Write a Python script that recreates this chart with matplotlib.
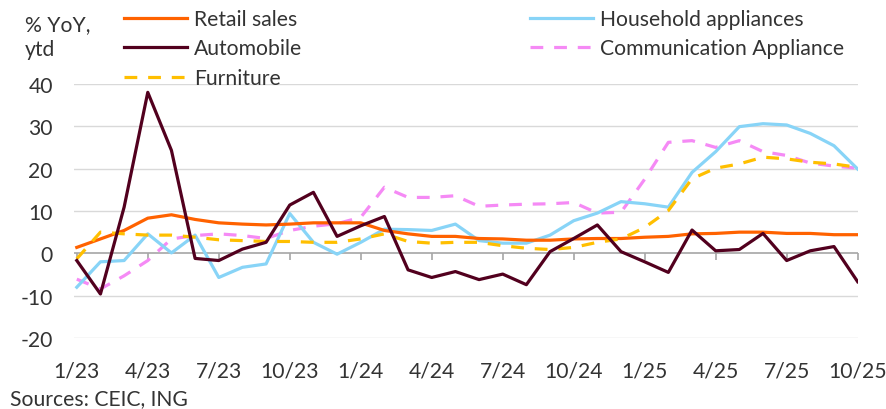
import matplotlib
matplotlib.use("Agg")
import matplotlib.pyplot as plt

# Datos mensuales 1/23 - 10/25 (% YoY, ytd)
meses = ["1/23", "4/23", "7/23", "10/23", "1/24", "4/24",
         "7/24", "10/24", "1/25", "4/25", "7/25", "10/25"]

retail_sales = [1.4, 3.4, 5.4, 8.3, 9.1, 8.0, 7.2, 6.9, 6.7, 6.9, 7.2, 7.2,
                7.2, 5.4, 4.6, 4.0, 4.0, 3.5, 3.4, 3.1, 3.1, 3.4, 3.5,
                3.5, 3.8, 4.0, 4.6, 4.7, 5.0, 5.0, 4.7, 4.7, 4.4, 4.4]
automobile = [-1.7, -9.6, 10.9, 38.0, 24.3, -1.2, -1.7, 1.0, 2.6, 11.4, 14.4, 4.0,
              6.5, 8.7, -3.9, -5.7, -4.3, -6.2, -4.9, -7.4, 0.4, 3.5, 6.7,
              0.4, -2.0, -4.5, 5.5, 0.6, 0.9, 4.7, -1.7, 0.6, 1.6, -6.7]
furniture = [-1.3, 5.0, 4.6, 4.3, 4.3, 3.8, 3.2, 3.0, 2.8, 2.8, 2.6, 2.6,
             3.4, 4.6, 2.8, 2.4, 2.6, 2.6, 1.8, 1.2, 0.9, 1.4, 2.6,
             3.4, 6.1, 10.1, 17.6, 20.1, 21.1, 22.7, 22.3, 21.5, 21.1, 20.3]
household = [-8.0, -2.0, -1.7, 4.6, 0.1, 4.3, -5.7, -3.3, -2.5, 9.4, 2.6, -0.2,
             2.6, 5.7, 5.6, 5.4, 6.9, 3.0, 2.4, 2.4, 4.3, 7.7, 9.5,
             12.2, 11.7, 10.9, 19.1, 24.0, 29.9, 30.6, 30.3, 28.3, 25.4, 19.9]
communication = [-6.1, -8.4, -5.3, -1.7, 3.4, 4.2, 4.6, 4.2, 3.5, 5.4, 6.4, 7.0,
                 8.5, 15.6, 13.2, 13.2, 13.6, 11.1, 11.4, 11.6, 11.7, 12.0, 9.5,
                 9.7, 17.5, 26.2, 26.6, 25.0, 26.6, 24.0, 23.1, 21.3, 20.6, 20.1]

x = list(range(len(retail_sales)))
posiciones = list(range(0, len(retail_sales), 3))

fs = 15.2
plt.rcParams['font.family'] = ['Lato', 'DejaVu Sans']
plt.rcParams['font.size'] = fs
plt.rcParams['axes.unicode_minus'] = False

fig = plt.figure(figsize=(8.86, 4.10), dpi=100)
ax = fig.add_axes([0.084, 0.173, 0.884, 0.62])

guion = (0, (4.0, 3.4))
ax.plot(x, retail_sales, color='#FF6200', lw=2.3, label='Retail sales', zorder=3)
ax.plot(x, automobile, color='#52001E', lw=2.3, label='Automobile', zorder=6)
ax.plot(x, furniture, color='#FFBF00', lw=2.3, ls=guion, label='Furniture', zorder=4)
ax.plot(x, household, color='#88D4F7', lw=2.3, label='Household appliances', zorder=2)
ax.plot(x, communication, color='#F58AF5', lw=2.3, ls=guion,
        label='Communication Appliance', zorder=1)

ax.set_xlim(-0.1, 33)
ax.set_ylim(-20, 40)
ax.set_yticks(range(-20, 41, 10))
for y in range(-20, 41, 10):
    if y != 0:
        ax.axhline(y, color='#D9D9D9', lw=1, zorder=0)
ax.axhline(0, color='#A6A6A6', lw=1.2, zorder=0)

for s in ax.spines.values():
    s.set_visible(False)
ax.yaxis.set_tick_params(length=0, pad=15.5, labelsize=fs, labelcolor='#333333')
ax.set_xticks(posiciones)
ax.set_xticklabels(meses)
ax.xaxis.set_tick_params(length=0, pad=16, labelsize=fs, labelcolor='#333333')

# marcas del eje en la línea de cero
sec = ax.secondary_xaxis(1 / 3)
sec.set_xticks(posiciones)
sec.set_xticklabels([])
sec.spines['bottom'].set_visible(False)
sec.tick_params(axis='x', direction='out', length=5, color='#A6A6A6', width=1.2)

handles, labels = ax.get_legend_handles_labels()
fig.legend(handles, labels, ncol=2, loc='upper left', bbox_to_anchor=(0.118, 1.022),
           frameon=False, handlelength=3.0, handletextpad=0.33,
           columnspacing=10.8, labelspacing=0.45, fontsize=fs,
           labelcolor='#333333')

fig.text(0.028, 0.962, '% YoY,\nytd', ha='left', va='top', fontsize=fs,
         color='#333333', linespacing=1.25)
fig.text(0.011, 0.026, 'Sources: CEIC, ING', ha='left', va='center',
         fontsize=fs, color='#333333')

fig.savefig('out.png', dpi=100)
